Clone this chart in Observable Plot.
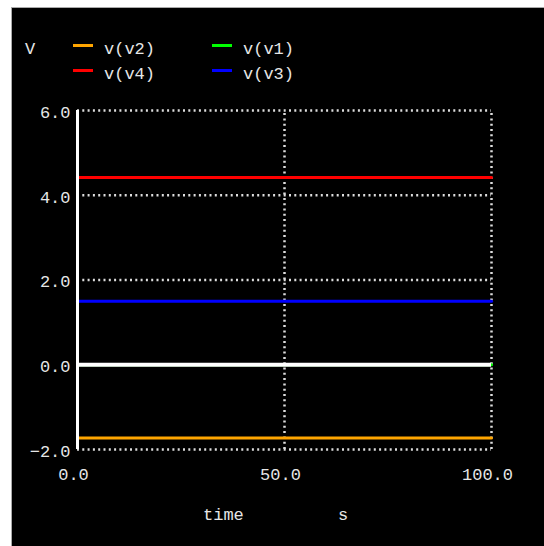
<!DOCTYPE html>
<html>
<head>
<meta charset="utf-8">
<script src="https://cdn.jsdelivr.net/npm/d3@7"></script>
<script src="https://cdn.jsdelivr.net/npm/@observablehq/plot@0.6"></script>
<style>
  html, body { margin: 0; padding: 0; background: #fff; }
  #wrap {
    position: absolute; left: 11px; top: 7px; width: 533px; height: 539px;
    background: #000; border-top: 1px solid #aaa; border-left: 1px solid #aaa;
    box-sizing: border-box; overflow: hidden;
    font-family: "Liberation Mono", "DejaVu Sans Mono", monospace; color: #e6e6e6;
  }
  #legend { position: relative; height: 82px; }
  #legend span, #caption span { position: absolute; font-size: 17px; line-height: 17px; white-space: pre; }
  #legend i { position: absolute; height: 3px; width: 20px; display: block; }
  #caption { position: relative; height: 52px; }
  svg { display: block; }
</style>
</head>
<body>
<div id="wrap">
  <div id="legend"></div>
  <div id="chart"></div>
  <div id="caption"><span style="left:191px;top:12px">time</span><span style="left:326px;top:12px">s</span></div>
</div>
<script>
// ---- data ----
const time = [0, 100];
const seriesNames = ["v(v2)", "v(v1)", "v(v4)", "v(v3)"];
const seriesColors = ["#ffa500", "#00ff00", "#ff0000", "#0000ff"];
const v2 = [-1.73, -1.73];
const v1 = [0, 0];
const v4 = [4.42, 4.42];
const v3 = [1.5, 1.5];
const yTicks = [-2, 0, 2, 4, 6];
const xTicks = [0, 50, 100];
const yUnit = "V";

const seriesValues = [v2, v1, v4, v3];
const table = [];
seriesNames.forEach((name, i) => {
  time.forEach((t, j) => table.push({series: name, t, v: seriesValues[i][j]}));
});

// ---- legend ----
const legend = document.getElementById("legend");
const unit = document.createElement("span");
unit.textContent = yUnit;
unit.style.left = "13px"; unit.style.top = "33px";
legend.appendChild(unit);
const legendPos = [[61, 36, 92], [200, 36, 231], [61, 61, 92], [200, 61, 231]];
seriesNames.forEach((name, i) => {
  const [sx, sy, tx] = legendPos[i];
  const sw = document.createElement("i");
  sw.style.left = sx + "px"; sw.style.top = sy + "px"; sw.style.background = seriesColors[i];
  legend.appendChild(sw);
  const tt = document.createElement("span");
  tt.textContent = name;
  tt.style.left = tx + "px"; tt.style.top = (sy - 3) + "px";
  legend.appendChild(tt);
});

// ---- chart ----
const dotted = {stroke: "#dddddd", strokeWidth: 2.5, strokeDasharray: "2 3.3"};
const chart = Plot.plot({
  width: 532,
  height: 405,
  marginLeft: 65,
  marginRight: 53,
  marginTop: 20,
  marginBottom: 46,
  style: {background: "#000", color: "#e6e6e6", fontFamily: "Liberation Mono, DejaVu Sans Mono, monospace", fontSize: "17px"},
  x: {domain: [0, 100]},
  y: {domain: [-2, 6]},
  color: {domain: seriesNames, range: seriesColors},
  marks: [
    Plot.ruleY(yTicks, {...dotted, x1: 0, x2: 100}),
    Plot.ruleX(xTicks.slice(1), {...dotted, y1: -2, y2: 6}),
    Plot.line(table, {x: "t", y: "v", z: "series", stroke: "series", strokeWidth: 3}),
    Plot.ruleY([0], {x1: 0, x2: 100, stroke: "#fff", strokeWidth: 4}),
    Plot.ruleX([0], {y1: -2, y2: 6, stroke: "#fff", strokeWidth: 3}),
    Plot.axisY(yTicks, {tickSize: 0, tickPadding: 7, dy: 2, tickFormat: d3.format(".1f"), label: null, fill: "#e6e6e6"}),
    Plot.axisX(xTicks, {tickSize: 0, tickPadding: 18, dx: -4, tickFormat: d3.format(".1f"), label: null, fill: "#e6e6e6"})
  ]
});
document.getElementById("chart").appendChild(chart);
</script>
</body>
</html>
